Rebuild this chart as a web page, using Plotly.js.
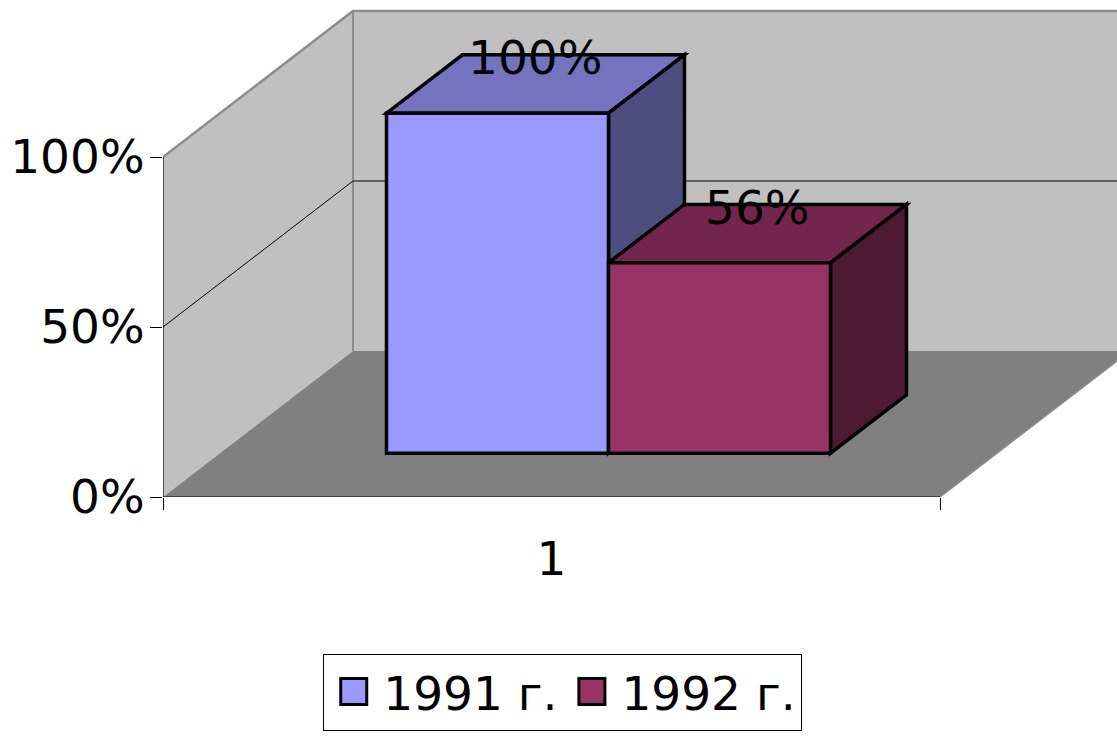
<!DOCTYPE html>
<html>
<head>
<meta charset="utf-8">
<script src="https://cdn.plot.ly/plotly-3.0.1.min.js"></script>
<style>html,body{margin:0;padding:0;background:#fff;}#chart{width:1117px;height:739px;}</style>
</head>
<body>
<div id="chart"></div>
<script>
// ---- data ----
const categories = ['1'];
const seriesNames = ['1991 г.', '1992 г.'];
const values1991 = [100];
const values1992 = [56];
const dataLabels1991 = ['100%'];
const dataLabels1992 = ['56%'];
const yTickVals = [0, 50, 100];
const yTickText = ['0%', '50%', '100%'];

// ---- styling / projection ----
const FONT = 'DejaVu Sans, Verdana, sans-serif';
const FS = 47;
const frontColors = ['#9999FF', '#993366'];
const topColors = ['#7373BF', '#73264D'];
const sideColors = ['#4D4D80', '#4D1A33'];
const DX = 0.2445;   // horizontal shift for full depth (x units)
const DY = 42.94;    // vertical shift for full depth (y units)
const D0 = 0.30, D1 = 0.70;   // bar depth span
const gapW = 0.75, nSeries = 2;
const barW = 1 / (nSeries + 2 * gapW);  // gap width 150%
const YMAX = 100;

function P(x, y, d) { return [x + d * DX, y + d * DY]; }
function path(pts) { return 'M' + pts.map(p => p[0] + ',' + p[1]).join('L') + 'Z'; }
function line(pts) { return 'M' + pts.map(p => p[0] + ',' + p[1]).join('L'); }

const shapes = [];
const wallGrey = '#C0C0C0', floorGrey = '#808080', edgeGrey = '#8C8C8C';
shapes.push({type:'path', xref:'x', yref:'y', layer:'below',
  path: path([P(0,0,0), P(0,YMAX,0), P(0,YMAX,1), P(0,0,1)]), fillcolor: wallGrey, line:{width:0}});
shapes.push({type:'path', xref:'x', yref:'y', layer:'below',
  path: path([P(0,0,1), P(0,YMAX,1), P(1,YMAX,1), P(1,0,1)]), fillcolor: wallGrey, line:{width:0}});
shapes.push({type:'path', xref:'x', yref:'y', layer:'below',
  path: path([P(0,0,0), P(1,0,0), P(1,0,1), P(0,0,1)]), fillcolor: floorGrey, line:{width:0}});
shapes.push({type:'path', xref:'x', yref:'y', layer:'below',
  path: line([P(0,YMAX,0), P(0,YMAX,1), P(1,YMAX,1)]), line:{color:edgeGrey, width:2.5}});
shapes.push({type:'path', xref:'x', yref:'y', layer:'below',
  path: line([P(0,0,1), P(0,YMAX,1)]), line:{color:edgeGrey, width:2}});
shapes.push({type:'path', xref:'x', yref:'y', layer:'below',
  path: line([P(1,0,0), P(1,0,1)]), line:{color:edgeGrey, width:1.5}});
yTickVals.filter(v => v > 0 && v < YMAX).forEach(v => {
  shapes.push({type:'path', xref:'x', yref:'y', layer:'below',
    path: line([P(0,v,0), P(0,v,1), P(1,v,1)]), line:{color:'#000', width:1}});
});
shapes.push({type:'path', xref:'x', yref:'y', layer:'below',
  path: line([P(0,0,0), P(0,YMAX,0)]), line:{color:'#000', width:1.2}});
shapes.push({type:'path', xref:'x', yref:'y', layer:'below',
  path: line([P(0,0,0), P(1,0,0)]), line:{color:'#000', width:1.2}});

const seriesValues = [values1991, values1992];
const seriesLabels = [dataLabels1991, dataLabels1992];
const traces = [];
const annotations = [];
seriesValues.forEach((vals, i) => {
  const xl = gapW * barW + i * barW;
  const xr = xl + barW;
  const v = vals[0];
  shapes.push({type:'path', xref:'x', yref:'y', layer:'below',
    path: path([P(xl,v,D0), P(xr,v,D0), P(xr,v,D1), P(xl,v,D1)]),
    fillcolor: topColors[i], line:{color:'#000', width:3.5}});
  shapes.push({type:'path', xref:'x', yref:'y', layer:'below',
    path: path([P(xr,0,D0), P(xr,v,D0), P(xr,v,D1), P(xr,0,D1)]),
    fillcolor: sideColors[i], line:{color:'#000', width:3.5}});
  traces.push({
    type:'bar', name: seriesNames[i],
    x: [xl + barW / 2 + D0 * DX], y: [v], base: [D0 * DY], width: [barW],
    marker: {color: frontColors[i], line: {color:'#000', width:3.5}},
    hoverinfo:'skip'
  });
  const lp = P(xl + barW / 2, v, (D0 + D1) / 2);
  annotations.push({x: lp[0], y: lp[1], xref:'x', yref:'y', text: seriesLabels[i][0],
    showarrow:false, yanchor:'bottom', xanchor:'center', yshift: -3,
    font:{family: FONT, size: FS, color:'#000'}});
});

const layout = {
  width: 1117, height: 739,
  margin: {l: 163, r: 0, t: 0, b: 242},
  paper_bgcolor: '#fff', plot_bgcolor: 'rgba(0,0,0,0)',
  barmode: 'overlay',
  font: {family: FONT, color:'#000'},
  showlegend: true,
  legend: {orientation:'h', x: 0.419, xanchor:'center', y: -0.315, yanchor:'top',
    bordercolor:'#000', borderwidth:1, font:{family: FONT, size:FS, color:'#000'},
    traceorder:'normal', itemwidth: 49},
  xaxis: {range:[0, 954/777], showgrid:false, zeroline:false, showline:false,
    tickmode:'array', tickvals:[0.5], ticktext: categories, ticks:'',
    tickfont:{family: FONT, size:FS, color:'#000'}, ticklabelstandoff: 30,
    minor: {tickmode:'array', tickvals:[0, 1], ticks:'outside', ticklen:12, tickcolor:'#000', tickwidth:1, showgrid:false},
    fixedrange:true},
  yaxis: {range:[0, 497/3.4], showgrid:false, zeroline:false, showline:false,
    tickmode:'array', tickvals: yTickVals, ticktext: yTickText, ticks:'outside', ticklen:12,
    tickcolor:'#000', tickwidth:1, tickfont:{family: FONT, size:FS, color:'#000'},
    ticklabelstandoff: -4, fixedrange:true},
  shapes: shapes,
  annotations: annotations
};

Plotly.newPlot('chart', traces, layout, {displayModeBar:false, staticPlot:true}).then(gd => {
  // enlarge legend swatches to match the reference's bigger squares
  gd.querySelectorAll('.legend .legendpoints path').forEach(p => {
    p.setAttribute('d', 'M13,13H-13V-13H13Z');
    p.style.strokeWidth = '3px';
    p.style.stroke = '#000';
  });
});
</script>
</body>
</html>
